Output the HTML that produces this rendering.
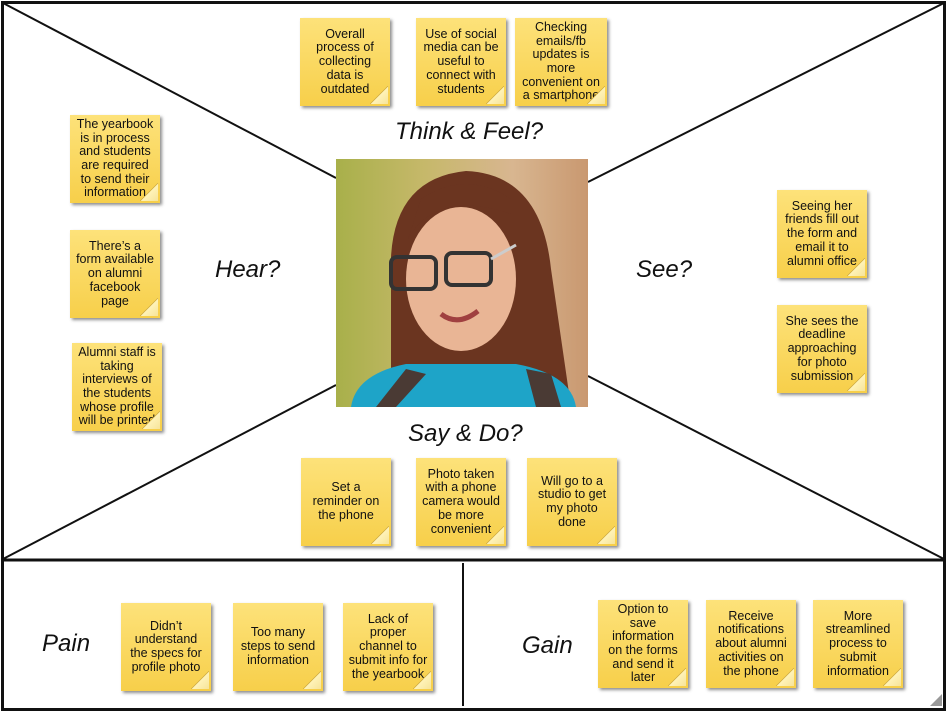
<!DOCTYPE html>
<html><head><meta charset="utf-8"><style>
body{margin:0;width:947px;height:713px;background:#fff;position:relative;overflow:hidden;font-family:"Liberation Sans",Arial,sans-serif}
.n{position:absolute;width:90px;height:88px;background:linear-gradient(180deg,#fde27a,#f7cf4a);box-shadow:2px 2px 3px rgba(0,0,0,.45);font-size:12.5px;line-height:13.7px;text-align:center;color:#111;display:flex;align-items:center;justify-content:center;box-sizing:border-box;padding:0;white-space:nowrap}
.n:after{content:"";position:absolute;right:2px;bottom:2px;width:18px;height:18px;background:linear-gradient(135deg,transparent 48%,#c9a43a 50%,#fff3b8 53%,#f6e39a 100%)}
.l{position:absolute;font-style:italic;font-size:24px;color:#111;white-space:nowrap}
</style></head><body>
<svg width="947" height="713" style="position:absolute;left:0;top:0">
<rect x="2.5" y="2.5" width="942" height="707" fill="none" stroke="#111" stroke-width="3"/>
<line x1="2" y1="560" x2="945" y2="560" stroke="#111" stroke-width="3"/>
<line x1="463" y1="563" x2="463" y2="706" stroke="#111" stroke-width="2"/>
<g stroke="#111" stroke-width="2">
<line x1="3" y1="3" x2="336" y2="178"/>
<line x1="944" y1="3" x2="588" y2="182"/>
<line x1="3" y1="559" x2="336" y2="385"/>
<line x1="944" y1="559" x2="588" y2="376"/>
</g>
<polygon points="930,706 942,694 942,706" fill="#999"/>
</svg>
<svg style="position:absolute;left:336px;top:159px" width="252" height="248" viewBox="0 0 252 248">
<defs><linearGradient id="bg" x1="0" x2="1"><stop offset="0" stop-color="#a8b04a"/><stop offset=".35" stop-color="#c6b86a"/><stop offset=".7" stop-color="#d8b690"/><stop offset="1" stop-color="#c99870"/></linearGradient></defs>
<rect width="252" height="248" fill="url(#bg)"/>
<path d="M55 248 L55 120 Q50 20 130 12 Q205 15 215 110 L235 248 Z" fill="#6b3520"/>
<ellipse cx="125" cy="120" rx="55" ry="72" fill="#e9b595"/>
<path d="M72 80 Q100 30 175 55 L175 40 Q130 10 85 40 Z" fill="#6b3520"/>
<rect x="55" y="98" width="45" height="32" rx="6" fill="none" stroke="#333" stroke-width="4"/>
<rect x="110" y="94" width="45" height="32" rx="6" fill="none" stroke="#333" stroke-width="4"/>
<path d="M155 100 L180 86" stroke="#ccc" stroke-width="3"/>
<path d="M105 155 Q122 168 142 152" stroke="#a04040" stroke-width="5" fill="none"/>
<path d="M15 248 Q20 215 70 205 L180 205 Q235 215 240 248 Z" fill="#1ea4c8"/>
<path d="M40 248 L70 210 L90 215 L60 248 Z M200 248 L190 210 L215 215 L225 248Z" fill="#4a3a34"/>
</svg>
<div class="n" style="left:300px;top:18px">Overall<br>process of<br>collecting<br>data is<br>outdated</div>
<div class="n" style="left:416px;top:18px">Use of social<br>media can be<br>useful to<br>connect with<br>students</div>
<div class="n" style="left:515px;top:18px;width:92px">Checking<br>emails/fb<br>updates is<br>more<br>convenient on<br>a smartphone</div>
<div class="l" style="left:395px;top:118px">Think &amp; Feel?</div>
<div class="n" style="left:70px;top:115px">The yearbook<br>is in process<br>and students<br>are required<br>to send their<br>information</div>
<div class="n" style="left:70px;top:230px">There’s a<br>form available<br>on alumni<br>facebook<br>page</div>
<div class="n" style="left:72px;top:343px">Alumni staff is<br>taking<br>interviews of<br>the students<br>whose profile<br>will be printed</div>
<div class="l" style="left:215px;top:256px">Hear?</div>
<div class="l" style="left:636px;top:256px">See?</div>
<div class="n" style="left:777px;top:190px">Seeing her<br>friends fill out<br>the form and<br>email it to<br>alumni office</div>
<div class="n" style="left:777px;top:305px">She sees the<br>deadline<br>approaching<br>for photo<br>submission</div>
<div class="l" style="left:408px;top:420px">Say &amp; Do?</div>
<div class="n" style="left:301px;top:458px">Set a<br>reminder on<br>the phone</div>
<div class="n" style="left:416px;top:458px">Photo taken<br>with a phone<br>camera would<br>be more<br>convenient</div>
<div class="n" style="left:527px;top:458px">Will go to a<br>studio to get<br>my photo<br>done</div>
<div class="l" style="left:42px;top:630px">Pain</div>
<div class="n" style="left:121px;top:603px">Didn’t<br>understand<br>the specs for<br>profile photo</div>
<div class="n" style="left:233px;top:603px">Too many<br>steps to send<br>information</div>
<div class="n" style="left:343px;top:603px">Lack of<br>proper<br>channel to<br>submit info for<br>the yearbook</div>
<div class="l" style="left:522px;top:632px">Gain</div>
<div class="n" style="left:598px;top:600px">Option to<br>save<br>information<br>on the forms<br>and send it<br>later</div>
<div class="n" style="left:706px;top:600px">Receive<br>notifications<br>about alumni<br>activities on<br>the phone</div>
<div class="n" style="left:813px;top:600px">More<br>streamlined<br>process to<br>submit<br>information</div>
</body></html>
